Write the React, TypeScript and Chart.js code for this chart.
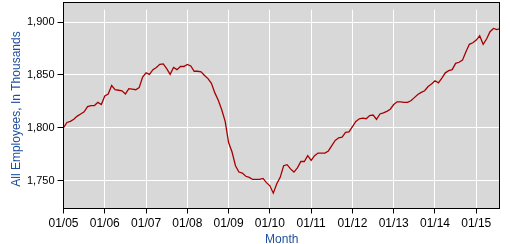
import React, { useEffect, useRef } from 'react';
import { Chart, registerables } from 'chart.js';

Chart.register(...registerables);

// All Employees, in thousands, monthly from 01/2005 to 08/2015
const values2005 = [1800, 1805, 1806, 1808, 1811, 1813, 1815, 1820, 1821, 1821, 1824, 1822];
const values2006 = [1830, 1832, 1840, 1836, 1835.5, 1835, 1832, 1837, 1836.5, 1836, 1838, 1848];
const values2007 = [1852, 1850.5, 1855, 1857, 1860, 1860.5, 1856, 1850.5, 1857, 1855, 1858, 1858];
const values2008 = [1860, 1858.5, 1853.5, 1853.5, 1853, 1849.5, 1846.5, 1842, 1833, 1826, 1817, 1806];
const values2009 = [1786, 1777, 1764, 1758, 1757, 1754, 1753, 1751, 1751, 1751, 1752, 1748];
const values2010 = [1745, 1738, 1747, 1753, 1764, 1765, 1761, 1758, 1762, 1768, 1768, 1773.5];
const values2011 = [1769, 1773.5, 1776, 1776, 1776, 1778, 1783, 1788, 1790.5, 1791, 1795.5, 1796];
const values2012 = [1801, 1806, 1808.5, 1809, 1808.5, 1811.5, 1812, 1808, 1813, 1814, 1815.5, 1817.5];
const values2013 = [1822, 1824.5, 1824.5, 1824, 1824, 1825.5, 1828.5, 1831.5, 1833.5, 1835, 1839, 1841.5];
const values2014 = [1844.5, 1842.5, 1847, 1852, 1854, 1855, 1861, 1862, 1864, 1872, 1879, 1880.5];
const values2015 = [1883, 1887, 1879, 1884, 1891, 1894, 1893, 1894];

const employees = [
  ...values2005, ...values2006, ...values2007, ...values2008, ...values2009, ...values2010,
  ...values2011, ...values2012, ...values2013, ...values2014, ...values2015,
];

const xTickLabels = ['01/05', '01/06', '01/07', '01/08', '01/09', '01/10', '01/11', '01/12', '01/13', '01/14', '01/15'];
const yTickValues = [1750, 1800, 1850, 1900];

const yTitle = 'All Employees, In Thousands';
const xTitle = 'Month';

const plotFrame = {
  id: 'plotFrame',
  beforeDraw(chart: any) {
    const { ctx, chartArea } = chart;
    ctx.save();
    ctx.fillStyle = '#d8d8d8';
    ctx.fillRect(63, 2, 437, 207);
    ctx.restore();
  },
  afterDraw(chart: any) {
    const { ctx } = chart;
    ctx.save();
    ctx.strokeStyle = '#000000';
    ctx.lineWidth = 1;
    ctx.strokeRect(63.5, 2.5, 436, 206);
    ctx.restore();
  },
};

export default function App() {
  const canvasRef = useRef<HTMLCanvasElement | null>(null);

  useEffect(() => {
    const canvas = canvasRef.current;
    if (!canvas) return;
    const data = employees.map((v, i) => ({ x: i, y: v }));
    const chart = new Chart(canvas, {
      type: 'line',
      data: {
        datasets: [
          {
            data,
            borderColor: '#a80000',
            borderWidth: 1.3,
            pointRadius: 0,
            tension: 0,
            fill: false,
          },
        ],
      },
      options: {
        animation: false,
        responsive: false,
        maintainAspectRatio: false,
        devicePixelRatio: 1,
        layout: { padding: { top: 2.5, right: 10, bottom: 0, left: 0 } },
        plugins: {
          legend: { display: false },
          tooltip: { enabled: false },
        },
        scales: {
          x: {
            type: 'linear',
            min: 0,
            max: 126.9,
            afterFit(scale: any) {
              scale.height = 35.5;
            },
            afterBuildTicks(scale: any) {
              scale.ticks = xTickLabels.map((_, i) => ({ value: i * 12 }));
            },
            border: { display: false },
            grid: {
              color: '#ffffff',
              tickColor: '#000000',
              lineWidth: 1,
              tickLength: 5,
            },
            ticks: {
              autoSkip: false,
              maxRotation: 0,
              padding: 3,
              color: '#000000',
              font: { family: '"Liberation Sans", Arial, sans-serif', size: 12 },
              callback: (value: any) => xTickLabels[Math.round(Number(value) / 12)] ?? '',
            },
            title: {
              display: true,
              text: xTitle,
              color: '#1d4e9e',
              font: { family: '"Liberation Sans", Arial, sans-serif', size: 12, lineHeight: 1 },
              padding: { top: 0, bottom: -2 },
            },
          },
          y: {
            type: 'linear',
            min: 1723.48,
            max: 1911.89,
            afterFit(scale: any) {
              scale.width = 63.5;
            },
            afterBuildTicks(scale: any) {
              scale.ticks = yTickValues.map((v) => ({ value: v }));
            },
            border: { display: false },
            grid: {
              color: '#ffffff',
              tickColor: '#000000',
              lineWidth: 1,
              tickLength: 6,
            },
            ticks: {
              padding: 3,
              color: '#000000',
              font: { family: '"Liberation Sans", Arial, sans-serif', size: 11 },
              callback: (value: any) => Number(value).toLocaleString('en-US'),
            },
            title: {
              display: true,
              text: yTitle,
              color: '#1d4e9e',
              font: { family: '"Liberation Sans", Arial, sans-serif', size: 12, lineHeight: 1.2 },
              padding: { top: 9.5, bottom: 0 },
            },
          },
        },
      },
      plugins: [plotFrame],
    });
    return () => chart.destroy();
  }, []);

  return (
    <div style={{ position: 'fixed', left: 0, top: 0, width: 510, height: 244, background: '#ffffff' }}>
      <canvas ref={canvasRef} width={510} height={244} style={{ display: 'block', width: 510, height: 244 }} />
    </div>
  );
}
